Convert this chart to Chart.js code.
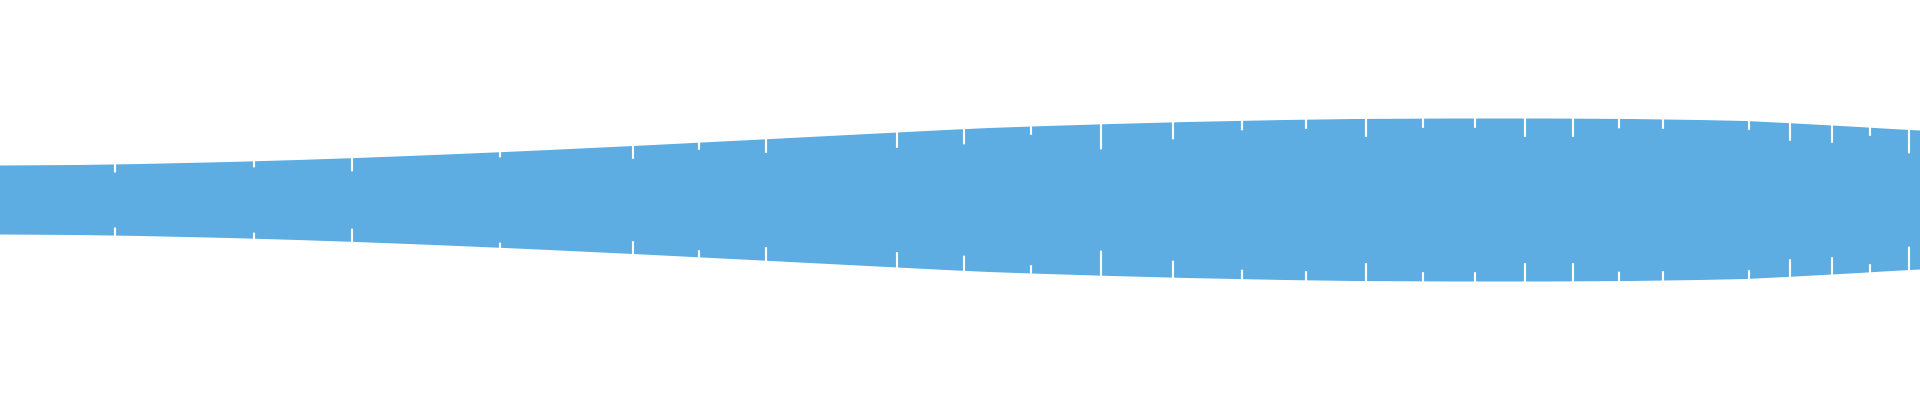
<!DOCTYPE html>
<html>
<head>
<meta charset="utf-8">
<script src="https://cdn.jsdelivr.net/npm/chart.js@4"></script>
<style>
  html, body { margin: 0; padding: 0; background: #fff; }
  #wrap { width: 1920px; height: 400px; }
</style>
</head>
<body>
<div id="wrap"><canvas id="band"></canvas></div>
<script>
// band outline: position along the axis and half width around the middle
const bandX = [0, 78, 141, 229, 298, 356, 409, 458, 505, 549, 591, 633, 673, 712, 752, 790, 829, 868, 907, 946, 989, 1047, 1112, 1187, 1284, 1354, 1450, 1550, 1631, 1700, 1746, 1786, 1823, 1859, 1892, 1920];
const bandHalf = [34.5, 35, 36, 38, 40, 42, 44, 46, 48, 50, 52, 54, 56, 58, 60, 62, 64, 66, 68, 70, 72, 74, 76, 78, 80, 81, 81.5, 81.5, 81, 80, 79, 77, 75, 73, 71, 69.5];

// white split marks: position, outer end and inner end
const markX = [115, 254, 352, 500, 633, 699, 766, 897, 964, 1031, 1101, 1173, 1242, 1306, 1366, 1423, 1475, 1525, 1573, 1619, 1663, 1749, 1790, 1832, 1870, 1909];
const markOuter = [36.5, 39.5, 43, 49, 55, 58.5, 61.5, 68.5, 72, 74.5, 76.5, 78.5, 80, 81.5, 82.5, 82.5, 82.5, 82.5, 82.5, 82.5, 81.5, 80, 78, 75.5, 73.5, 71];
const markInner = [27.8, 33, 29, 43, 41.5, 50.5, 47.5, 52.5, 56, 65.5, 51, 61, 70, 71.5, 63.5, 72.5, 72.5, 63.5, 63.5, 72, 71.5, 70.5, 59.5, 57.5, 64.5, 47];

const blue = '#5DADE2';

const upper = bandX.map((x, i) => ({ x: x, y: bandHalf[i] }));
const lower = bandX.map((x, i) => ({ x: x, y: -bandHalf[i] }));
const marksTop = markX.map((x, i) => ({ x: x, y: [markInner[i], markOuter[i]] }));
const marksBottom = markX.map((x, i) => ({ x: x, y: [-markOuter[i], -markInner[i]] }));

new Chart(document.getElementById('band'), {
  type: 'line',
  data: {
    datasets: [{
      type: 'bar',
      data: marksTop,
      backgroundColor: '#fff',
      barThickness: 1.5,
      grouped: false,
      order: 0
    }, {
      type: 'bar',
      data: marksBottom,
      backgroundColor: '#fff',
      barThickness: 1.5,
      grouped: false,
      order: 0
    }, {
      data: upper,
      borderWidth: 0,
      pointRadius: 0,
      backgroundColor: blue,
      fill: false,
      order: 1
    }, {
      data: lower,
      borderWidth: 0,
      pointRadius: 0,
      backgroundColor: blue,
      fill: '-1',
      order: 1
    }]
  },
  options: {
    responsive: true,
    maintainAspectRatio: false,
    animation: false,
    layout: { padding: 0 },
    scales: {
      x: { type: 'linear', min: 0, max: 1920, offset: false, display: false },
      y: { min: -200, max: 200, display: false }
    },
    plugins: {
      legend: { display: false },
      tooltip: { enabled: false }
    }
  }
});
</script>
</body>
</html>
